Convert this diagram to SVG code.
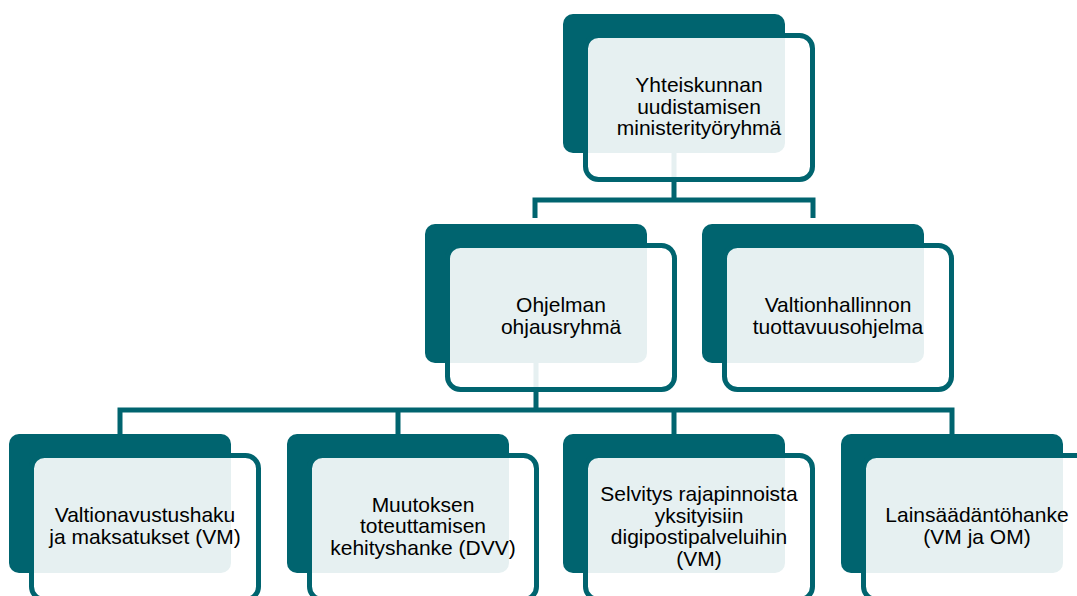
<svg xmlns="http://www.w3.org/2000/svg" width="1077" height="596" viewBox="0 0 1077 596">
<style>
.dk{fill:#00646f}
.ol{fill:#ffffff;fill-opacity:0.9;stroke:#00646f;stroke-width:5}
.cn{fill:none;stroke:#00646f;stroke-width:5}
text{font-family:"Liberation Sans",Arial,sans-serif;font-size:21px;fill:#000;text-anchor:middle}
</style>
<rect width="1077" height="596" fill="#ffffff"/>
<g id="connectors">
<path class="cn" d="M674,150 V200 M535,218 V200 H813 V218"/>
<path class="cn" d="M536,360 V410 M120,434 V410 H952 V434 M398,410 V434 M674,410 V434"/>
</g>
<g id="n1">
<rect class="dk" x="563" y="14" width="222" height="139" rx="10"/>
<rect class="ol" x="585.5" y="35.5" width="227" height="144" rx="13"/>
<text x="699" y="92">Yhteiskunnan</text>
<text x="699" y="113.5">uudistamisen</text>
<text x="699" y="135">ministerityöryhmä</text>
</g>
<g id="n2">
<rect class="dk" x="425" y="224" width="222" height="139" rx="10"/>
<rect class="ol" x="447.5" y="245.5" width="227" height="144" rx="13"/>
<text x="561" y="312">Ohjelman</text>
<text x="561" y="333.5">ohjausryhmä</text>
</g>
<g id="n3">
<rect class="dk" x="702" y="224" width="222" height="139" rx="10"/>
<rect class="ol" x="724.5" y="245.5" width="227" height="144" rx="13"/>
<text x="838" y="312">Valtionhallinnon</text>
<text x="838" y="333.5">tuottavuusohjelma</text>
</g>
<g id="n4">
<rect class="dk" x="9" y="434" width="222" height="139" rx="10"/>
<rect class="ol" x="31.5" y="455.5" width="227" height="144" rx="13"/>
<text x="145" y="522">Valtionavustushaku</text>
<text x="145" y="543.5">ja maksatukset (VM)</text>
</g>
<g id="n5">
<rect class="dk" x="287" y="434" width="222" height="139" rx="10"/>
<rect class="ol" x="309.5" y="455.5" width="227" height="144" rx="13"/>
<text x="423" y="511.5">Muutoksen</text>
<text x="423" y="533">toteuttamisen</text>
<text x="423" y="554.5">kehityshanke (DVV)</text>
</g>
<g id="n6">
<rect class="dk" x="563" y="434" width="222" height="139" rx="10"/>
<rect class="ol" x="585.5" y="455.5" width="227" height="144" rx="13"/>
<text x="699" y="501">Selvitys rajapinnoista</text>
<text x="699" y="522.5">yksityisiin</text>
<text x="699" y="544">digipostipalveluihin</text>
<text x="699" y="565.5">(VM)</text>
</g>
<g id="n7">
<rect class="dk" x="841" y="434" width="222" height="139" rx="10"/>
<rect class="ol" x="863.5" y="455.5" width="227" height="144" rx="13"/>
<text x="977" y="522">Lainsäädäntöhanke</text>
<text x="977" y="543.5">(VM ja OM)</text>
</g>
</svg>
